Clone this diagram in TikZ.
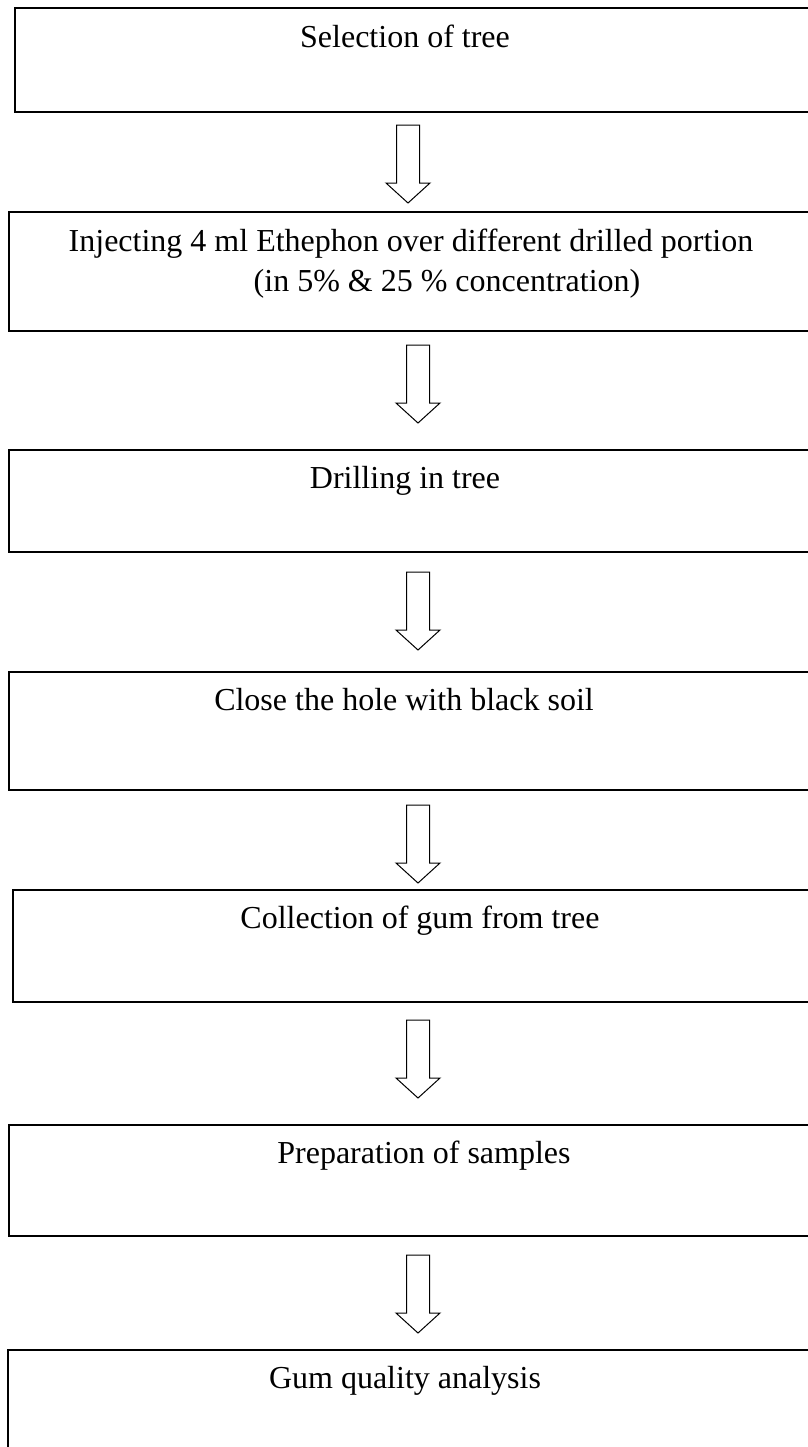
\documentclass[tikz,border=0pt]{standalone}
\usepackage{fontspec}
\setmainfont{Liberation Serif}
\begin{document}
\begin{tikzpicture}[x=0.5pt,y=-0.5pt,
  stepbox/.style={draw=black,line width=1pt,fill=none},
  lbl/.style={anchor=base,inner sep=0pt,font=\fontsize{16}{20}\selectfont},
  blk/.style={draw=black,line width=0.5pt,fill=white,line join=miter}]
\useasboundingbox (0,0) rectangle (808,1447);
\begin{scope}
\clip (0,0) rectangle (808,1447);
% boxes
\draw[stepbox] (15,8) rectangle (830,112);
\draw[stepbox] (9,212) rectangle (830,331);
\draw[stepbox] (9,450) rectangle (830,552);
\draw[stepbox] (9,672) rectangle (830,790);
\draw[stepbox] (13,890) rectangle (830,1002);
\draw[stepbox] (9,1125) rectangle (830,1236);
\draw[stepbox] (8,1350) rectangle (830,1470);
\end{scope}
% texts
\node[lbl] (t1) at (405,47) {Selection of tree};
\node[lbl] (t2a) at (411,251) {Injecting 4 ml Ethephon over different drilled portion};
\node[lbl] (t2b) at (447,291) {(in 5\% \& 25 \% concentration)};
\node[lbl] (t3) at (405,488) {Drilling in tree};
\node[lbl] (t4) at (404,710) {Close the hole with black soil};
\node[lbl] (t5) at (420,928) {Collection of gum from tree};
\node[lbl] (t6) at (424,1163) {Preparation of samples};
\node[lbl] (t7) at (405,1388) {Gum quality analysis};
% block arrows
\newcommand{\blockarr}[2]{%
  \coordinate (#1) at #2;
  \draw[blk] (#1) ++(-11.5,0) -- ++(0,58) -- ++(-10.5,0) -- ++(22,20) -- ++(22,-20) -- ++(-10.5,0) -- ++(0,-58) -- cycle;}
\blockarr{a1}{(408,125)}
\blockarr{a2}{(418,345)}
\blockarr{a3}{(418,572)}
\blockarr{a4}{(418,805)}
\blockarr{a5}{(418,1020)}
\blockarr{a6}{(418,1255)}
\end{tikzpicture}
\end{document}
